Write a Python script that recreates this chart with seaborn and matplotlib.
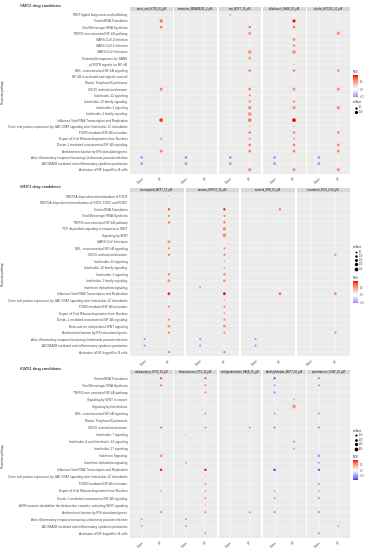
import numpy as np
import pandas as pd
import matplotlib
matplotlib.use("Agg")
import matplotlib.pyplot as plt
import seaborn as sns
from matplotlib.colors import LinearSegmentedColormap, Normalize, ListedColormap

W, H = 369, 550
sns.set_theme(style="darkgrid")
plt.rcParams["font.family"] = ["Liberation Sans", "DejaVu Sans"]

directions = ["Down", "UP"]

# ---------------- block 1 ----------------
smo2_title = "SMO2 drug candidates"
smo2_pathways = [
    "WNT ligand biogenesis and trafficking",
    "Viral mRNA Translation",
    "Viral Messenger RNA Synthesis",
    "TNFR2 non-canonical NF-kB pathway",
    "SARS-CoV-2 Infection",
    "SARS-CoV-1 Infection",
    "SARS-CoV Infections",
    "Potential therapeutics for SARS",
    "p75NTR signals via NF-kB",
    "NIK-->noncanonical NF-kB signaling",
    "NF-kB is activated and signals survival",
    "Mitotic Telophase/Cytokinesis",
    "ISG15 antiviral mechanism",
    "Interleukin-12 signaling",
    "Interleukin-12 family signaling",
    "Interleukin-1 signaling",
    "Interleukin-1 family signaling",
    "Influenza Viral RNA Transcription and Replication",
    "Gene and protein expression by JAK-STAT signaling after Interleukin-12 stimulation",
    "FCERI mediated NF-kB activation",
    "Export of Viral Ribonucleoproteins from Nucleus",
    "Dectin-1 mediated noncanonical NF-kB signaling",
    "Antiviral mechanism by IFN-stimulated genes",
    "Anti-inflammatory response favouring Leishmania parasite infection",
    "ADORA2B mediated anti-inflammatory cytokines production",
    "Activation of NF-kappaB in B cells",
]
smo2_setsize = [27, 88, 63, 95, 70, 50, 140, 60, 15, 57, 10, 12, 75, 40, 50,
                100, 130, 135, 12, 60, 35, 60, 80, 70, 70, 85]
smo2_facets = ["ursolic_acid_HT29_10_µM", "bexarotene_MDAMB231_3_µM",
               "rutin_MCF7_10_µM", "sulfathiazole_HA1E_10_µM",
               "sulindac_HCC515_10_µM"]
smo2_down = [
    {23: -1.6, 24: -1.6},
    {23: -1.6, 24: -1.6},
    {0: -1.3, 23: -1.6, 24: -1.6},
    {23: -1.6, 24: -1.6},
    {23: -1.6, 24: -1.6},
]
smo2_up = [
    {1: 2.2, 2: 2.0, 12: 1.9, 17: 2.5, 20: 1.8, 22: 1.9},
    {},
    {2: 2.0, 3: 1.6, 6: 1.5, 7: 1.7, 9: 2.0, 12: 1.9, 13: 1.7, 14: 1.7, 15: 1.8,
     16: 1.6, 17: 1.9, 18: 1.8, 19: 2.0, 20: 1.7, 21: 2.0, 22: 1.9, 25: 1.9},
    {1: 2.9, 2: 2.0, 4: 1.8, 5: 1.8, 6: 1.6, 8: 1.5, 9: 1.9, 12: 1.8, 14: 1.7,
     15: 1.6, 17: 2.9, 18: 1.8, 19: 1.9, 20: 1.6, 21: 1.9, 22: 1.8, 25: 1.8},
    {3: 1.7, 9: 1.8, 12: 1.8, 15: 1.7, 19: 1.8, 21: 1.9, 22: 1.8, 25: 1.8},
]
smo2_size_breaks = [50, 100]

# ---------------- block 2 ----------------
wnt1_title = "WNT1 drug candidates"
wnt1_pathways = [
    "WNT5A-dependent internalization of FZD4",
    "WNT5A-dependent internalization of FZD2, FZD5 and ROR2",
    "Viral mRNA Translation",
    "Viral Messenger RNA Synthesis",
    "TNFR2 non-canonical NF-kB pathway",
    "TCF dependent signaling in response to WNT",
    "Signaling by WNT",
    "SARS-CoV Infections",
    "NIK-->noncanonical NF-kB signaling",
    "ISG15 antiviral mechanism",
    "Interleukin-12 signaling",
    "Interleukin-12 family signaling",
    "Interleukin-1 signaling",
    "Interleukin-1 family signaling",
    "Interferon alpha/beta signaling",
    "Influenza Viral RNA Transcription and Replication",
    "Gene and protein expression by JAK-STAT signaling after Interleukin-12 stimulation",
    "FCERI mediated NF-kB activation",
    "Export of Viral Ribonucleoproteins from Nucleus",
    "Dectin-1 mediated noncanonical NF-kB signaling",
    "Beta-catenin independent WNT signaling",
    "Antiviral mechanism by IFN-stimulated genes",
    "Anti-inflammatory response favouring Leishmania parasite infection",
    "ADORA2B mediated anti-inflammatory cytokines production",
    "Activation of NF-kappaB in B cells",
]
wnt1_setsize = [17, 20, 88, 63, 95, 200, 260, 140, 57, 75, 40, 50, 100, 130,
                60, 135, 12, 60, 35, 60, 130, 80, 60, 60, 85]
wnt1_facets = ["levonorgestrel_MCF7_10_µM", "valsartan_HEPG2_10_µM",
               "sorafenib_SKB_10_µM", "vemurafenib_BT20_0.04_µM"]
wnt1_down = [
    {22: -1.6, 23: -1.6},
    {14: -1.4, 22: -1.6, 23: -1.6},
    {22: -1.6, 23: -1.6},
    {},
]
wnt1_up = [
    {0: 1.4, 2: 2.3, 3: 1.8, 4: 1.9, 7: 1.6, 8: 1.9, 9: 1.9, 12: 1.8, 13: 1.6,
     15: 2.6, 17: 1.9, 19: 1.9, 20: 1.6, 21: 1.8, 24: 1.9},
    {2: 2.7, 3: 1.9, 4: 1.9, 5: 1.7, 6: 1.6, 8: 1.9, 9: 1.9, 10: 1.5, 11: 1.5,
     12: 1.8, 13: 1.6, 15: 2.8, 16: 1.6, 17: 1.9, 18: 1.7, 19: 1.9, 20: 1.7,
     21: 1.7, 24: 1.9},
    {2: 2.0, 15: 2.0},
    {9: 1.7, 15: 1.7, 21: 1.7},
]
wnt1_size_breaks = [50, 100, 150, 200, 250]

# ---------------- block 3 ----------------
kwd1_title = "KWD1 drug candidates"
kwd1_pathways = [
    "Viral mRNA Translation",
    "Viral Messenger RNA Synthesis",
    "TNFR2 non-canonical NF-kB pathway",
    "Signaling by WNT in cancer",
    "Signaling by Interleukins",
    "NIK-->noncanonical NF-kB signaling",
    "Mitotic Telophase/Cytokinesis",
    "ISG15 antiviral mechanism",
    "Interleukin-7 signaling",
    "Interleukin-4 and Interleukin-13 signaling",
    "Interleukin-17 signaling",
    "Interferon Signaling",
    "Interferon alpha/beta signaling",
    "Influenza Viral RNA Transcription and Replication",
    "Gene and protein expression by JAK-STAT signaling after Interleukin-12 stimulation",
    "FCERI mediated NF-kB activation",
    "Export of Viral Ribonucleoproteins from Nucleus",
    "Dectin-1 mediated noncanonical NF-kB signaling",
    "AXIN mutants destabilize the destruction complex, activating WNT signaling",
    "Antiviral mechanism by IFN-stimulated genes",
    "Anti-inflammatory response favouring Leishmania parasite infection",
    "ADORA2B mediated anti-inflammatory cytokines production",
    "Activation of NF-kappaB in B cells",
]
kwd1_setsize = [88, 63, 95, 80, 420, 57, 12, 75, 25, 100, 65, 180, 60, 135,
                12, 60, 35, 60, 15, 80, 60, 60, 85]
kwd1_facets = ["carbamazepine_HT29_10_µM", "dexamethasone_PC3_10_µM",
               "methylprednisolone_HA1E_10_µM", "dimethylphthalate_MCF7_10_µM",
               "spironolactone_VCAP_10_µM"]
kwd1_down = [
    {20: -1.5, 21: -1.5},
    {8: -1.3, 12: -1.4, 20: -1.6, 21: -1.6},
    {},
    {0: -2.6, 1: -1.6, 2: -1.7, 5: -1.7, 7: -1.8, 13: -2.6, 16: -1.6, 17: -1.7,
     19: -1.8},
    {0: -1.8, 1: -1.8, 5: -1.8, 7: -1.8, 11: -1.5, 12: -1.6, 13: -2.2, 15: -1.7,
     16: -1.7, 17: -1.8, 19: -1.8, 22: -1.6},
]
kwd1_up = [
    {0: 2.6, 1: 2.3, 7: 2.2, 11: 1.6, 13: 2.7, 16: 1.8, 19: 2.0},
    {0: 2.4, 1: 2.2, 2: 1.8, 5: 2.0, 7: 1.9, 13: 2.8, 14: 1.6, 15: 1.9, 16: 1.9,
     17: 2.0, 18: 1.5, 19: 1.9, 22: 1.8},
    {7: 1.8, 19: 1.8},
    {3: 1.4, 4: 1.5, 9: 1.7, 10: 1.6},
    {21: 1.7},
]
kwd1_size_breaks = [100, 200, 300, 400]

# ---------------- styling ----------------
cmap = LinearSegmentedColormap.from_list(
    "gradient2",
    ["#2A1CFF", "#7D66FF", "#AE9CFF", "#D8D0FF", "#FFFFFF",
     "#FFD1C4", "#FF9F85", "#FF6A4A", "#FF0000"])
PANEL_BG = "#EBEBEB"
STRIP_BG = "#D9D9D9"
TXT = "#4D4D4D"
FS = 2.35

fig = plt.figure(figsize=(W / 100, H / 100), dpi=100)
fig.patch.set_facecolor("white")


def fax(x0, y0, x1, y1):
    return fig.add_axes([x0 / W, 1 - y1 / H, (x1 - x0) / W, (y1 - y0) / H])


def build_df(pathways, setsize, facets, downs, ups):
    rows = []
    n = len(pathways)
    for f, dn, up in zip(facets, downs, ups):
        for d, dct in (("Down", dn), ("UP", up)):
            for i, nes in dct.items():
                rows.append(dict(facet=f, pathway=pathways[i], direction=d,
                                 xpos=directions.index(d), ypos=n - 1 - i,
                                 NES=nes, setSize=setsize[i]))
    return pd.DataFrame(rows)


def draw_block(title, pathways, setsize, facets, downs, ups, size_breaks,
               strip_y, panel_y, gap, leg):
    df = build_df(pathways, setsize, facets, downs, ups)
    n = len(pathways)
    M = df["NES"].abs().max()
    norm = Normalize(-M, M)
    s_lo, s_hi = min(setsize), max(setsize)
    sizes = (0.9, 7.5)
    nf = len(facets)
    left, right = 130, 350
    fw = (right - left - gap * (nf - 1)) / nf
    for k, f in enumerate(facets):
        x0 = left + k * (fw + gap)
        x1 = x0 + fw
        # strip
        sax = fax(x0, strip_y[0], x1, strip_y[1])
        sax.set_facecolor(STRIP_BG)
        sax.set_xticks([]); sax.set_yticks([])
        for sp in sax.spines.values():
            sp.set_visible(False)
        sax.text(0.5, 0.5, f, ha="center", va="center", fontsize=1.85,
                 color="#1A1A1A", transform=sax.transAxes, clip_on=True)
        ax = fax(x0, panel_y[0], x1, panel_y[1])
        ax.set_facecolor(PANEL_BG)
        sub = df[df["facet"] == f]
        if len(sub):
            sns.scatterplot(data=sub, x="xpos", y="ypos", hue="NES",
                            size="setSize", palette=cmap, hue_norm=norm,
                            sizes=sizes, size_norm=(s_lo, s_hi),
                            linewidth=0, legend=False, ax=ax, zorder=3)
        ax.set_xlim(-0.6, 1.6)
        ax.set_ylim(-0.6, n - 0.4)
        ax.set_xticks([0, 1])
        ax.set_yticks(range(n))
        ax.grid(True, color="white", linewidth=0.35)
        ax.set_axisbelow(True)
        for sp in ax.spines.values():
            sp.set_visible(False)
        ax.set_xlabel(""); ax.set_ylabel("")
        ax.set_xticklabels(directions, rotation=45, ha="right", va="top",
                           rotation_mode="anchor", fontsize=2.2, color=TXT)
        ax.tick_params(axis="both", length=1, width=0.3, color="#333333",
                       pad=0.8)
        if k == 0:
            ax.set_yticklabels(pathways[::-1], fontsize=FS, color=TXT)
        else:
            ax.set_yticklabels([])
            ax.tick_params(axis="y", length=0)
    # title
    fig.text(20 / W, 1 - (strip_y[0] - 0.5) / H, title, fontsize=2.9,
             color="black", ha="left", va="center")
    # y label
    fig.text(3 / W, 1 - (panel_y[0] + panel_y[1]) / 2 / H, "Reactome pathway",
             rotation=90, fontsize=2.0, ha="center", va="center",
             color="#333333")
    # legends
    lo, hi = df["NES"].min(), df["NES"].max()
    vals = np.linspace(lo, hi, 256)
    sub_cmap = ListedColormap(cmap(norm(vals)))
    sm = plt.cm.ScalarMappable(norm=Normalize(lo, hi), cmap=sub_cmap)

    def color_legend(ty, cy0, cy1):
        fig.text(353 / W, 1 - ty / H, "NES", fontsize=2.0, ha="left",
                 va="center")
        cax = fax(353, cy0, 358, cy1)
        cb = fig.colorbar(sm, cax=cax)
        cb.outline.set_visible(False)
        cb.ax.tick_params(labelsize=1.8, length=0.8, width=0.2, pad=0.8,
                          colors=TXT)
        cb.locator = matplotlib.ticker.MaxNLocator(4)
        cb.update_ticks()

    def size_legend(ty, ys):
        fig.text(353 / W, 1 - ty / H, "setSize", fontsize=2.0, ha="left",
                 va="center")
        lax = fax(352, ys[0] - 2, 369, ys[-1] + 2)
        lax.set_xlim(352, 369)
        lax.set_ylim(ys[-1] + 2, ys[0] - 2)
        lax.axis("off")
        for b, yy in zip(size_breaks, ys):
            s = sizes[0] + (b - s_lo) / (s_hi - s_lo) * (sizes[1] - sizes[0])
            lax.scatter([355.5], [yy], s=max(s, 0.5), color="black",
                        linewidth=0)
            lax.text(359, yy, str(b), fontsize=1.8, va="center", ha="left",
                     color=TXT)

    if leg["order"] == "color_first":
        color_legend(*leg["color"])
        size_legend(*leg["size"])
    else:
        size_legend(*leg["size"])
        color_legend(*leg["color"])


draw_block(smo2_title, smo2_pathways, smo2_setsize, smo2_facets, smo2_down,
           smo2_up, smo2_size_breaks, (6.5, 11), (11, 173.5), 1.5,
           dict(order="color_first", color=(72, 75, 97),
                size=(102, [107.5, 112])))
draw_block(wnt1_title, wnt1_pathways, wnt1_setsize, wnt1_facets, wnt1_down,
           wnt1_up, wnt1_size_breaks, (188, 192.5), (192.5, 356), 2.0,
           dict(order="size_first", color=(278, 281, 303),
                size=(247, [251.7, 255.9, 260.1, 264.3, 268.5])))
draw_block(kwd1_title, kwd1_pathways, kwd1_setsize, kwd1_facets, kwd1_down,
           kwd1_up, kwd1_size_breaks, (369.5, 374), (374, 537.5), 1.5,
           dict(order="size_first", color=(457, 460, 480),
                size=(431, [435.3, 440, 444.3, 448.7])))

fig.savefig("out.png", dpi=100, facecolor="white")
